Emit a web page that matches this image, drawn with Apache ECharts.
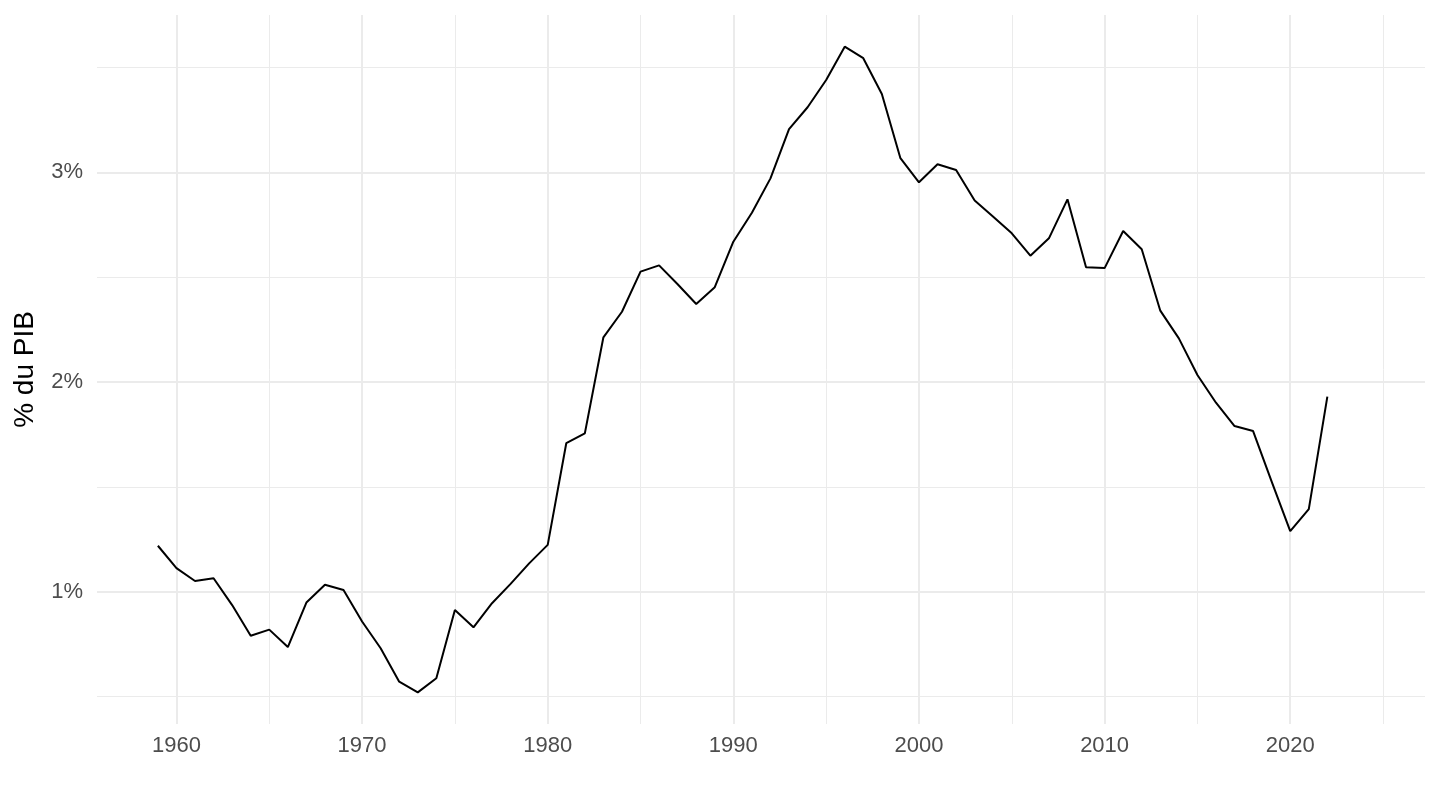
<!DOCTYPE html>
<html>
<head>
<meta charset="utf-8">
<script src="https://cdn.jsdelivr.net/npm/echarts@6/dist/echarts.min.js"></script>
<style>
html,body{margin:0;padding:0;background:#fff;}
#chart{width:1440px;height:810px;}
</style>
</head>
<body>
<div id="chart"></div>
<script>
const years = [1959,1960,1961,1962,1963,1964,1965,1966,1967,1968,1969,
  1970,1971,1972,1973,1974,1975,1976,1977,1978,1979,
  1980,1981,1982,1983,1984,1985,1986,1987,1988,1989,
  1990,1991,1992,1993,1994,1995,1996,1997,1998,1999,
  2000,2001,2002,2003,2004,2005,2006,2007,2008,2009,
  2010,2011,2012,2013,2014,2015,2016,2017,2018,2019,
  2020,2021,2022];
const values = [1.219,1.112,1.051,1.064,0.936,0.790,0.819,0.736,0.948,1.033,1.008,
  0.858,0.730,0.571,0.520,0.587,0.913,0.830,0.945,1.037,1.135,
  1.223,1.708,1.755,2.213,2.335,2.526,2.556,2.466,2.372,2.452,
  2.669,2.807,2.971,3.206,3.310,3.440,3.599,3.544,3.373,3.067,
  2.952,3.038,3.011,2.865,2.788,2.709,2.602,2.685,2.871,2.547,
  2.543,2.720,2.633,2.340,2.208,2.033,1.901,1.790,1.766,1.525,
  1.289,1.394,1.930];
const xMajorTicks = [1960,1970,1980,1990,2000,2010,2020];
const xMinorTicks = [1965,1975,1985,1995,2005,2015,2025];
const yMajorTicks = [1,2,3];
const yMinorTicks = [0.5,1.5,2.5,3.5];
const yTitle = '% du PIB';

const X_MIN = 1955.72, X_MAX = 2027.26, Y_MIN = 0.369, Y_MAX = 3.75;
const FONT = '"Liberation Sans", Arial, Helvetica, sans-serif';
const GRID = '#EBEBEB';

const chart = echarts.init(document.getElementById('chart'), null, {renderer: 'canvas'});
chart.setOption({
  backgroundColor: '#ffffff',
  animation: false,
  grid: {left: 97, right: 15, top: 15, bottom: 86, containLabel: false},
  xAxis: [
    {
      type: 'value', min: X_MIN, max: X_MAX, gridIndex: 0,
      axisLine: {show: false},
      axisTick: {show: false, customValues: xMajorTicks},
      axisLabel: {customValues: xMajorTicks, color: '#4D4D4D', fontSize: 22, fontFamily: FONT, margin: 11,
        formatter: v => String(v)},
      splitLine: {show: true, lineStyle: {color: GRID, width: 2}}
    },
    {
      type: 'value', min: X_MIN, max: X_MAX, gridIndex: 0, position: 'bottom',
      axisLine: {show: false},
      axisTick: {show: false, customValues: xMinorTicks},
      axisLabel: {show: false, customValues: xMinorTicks},
      splitLine: {show: true, lineStyle: {color: GRID, width: 1}}
    }
  ],
  yAxis: [
    {
      type: 'value', min: Y_MIN, max: Y_MAX, gridIndex: 0,
      name: yTitle, nameLocation: 'middle', nameRotate: 90, nameGap: 58,
      nameTextStyle: {color: '#000000', fontSize: 28, fontFamily: FONT},
      axisLine: {show: false},
      axisTick: {show: false, customValues: yMajorTicks},
      axisLabel: {customValues: yMajorTicks, color: '#4D4D4D', fontSize: 22, fontFamily: FONT, margin: 14,
        formatter: v => v + '%'},
      splitLine: {show: true, lineStyle: {color: GRID, width: 2}}
    },
    {
      type: 'value', min: Y_MIN, max: Y_MAX, gridIndex: 0, position: 'left',
      axisLine: {show: false},
      axisTick: {show: false, customValues: yMinorTicks},
      axisLabel: {show: false, customValues: yMinorTicks},
      splitLine: {show: true, lineStyle: {color: GRID, width: 1}}
    }
  ],
  series: [{
    type: 'line',
    xAxisIndex: 0, yAxisIndex: 0,
    data: years.map((y, i) => [y, values[i]]),
    showSymbol: false,
    symbol: 'none',
    lineStyle: {color: '#000000', width: 2},
    z: 5
  }]
});
</script>
</body>
</html>
